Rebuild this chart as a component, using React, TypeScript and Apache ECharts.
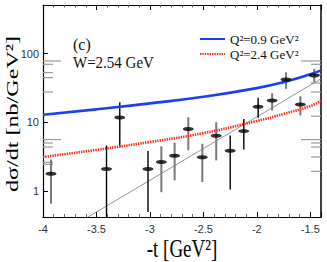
import React, { useEffect, useRef } from "react";
import * as echarts from "echarts";

// ---- axis ranges / ticks ----
const xMin = -4;
const xMax = -1.4;
const yMin = 0.423;
const yMax = 508;
const xTickInterval = 0.5;

// ---- data set A (black error bars) ----
const setAX = [-3.406, -3.282, -3.018, -2.249, -2.122, -1.988];
const setAY = [2.1, 11.8, 2.1, 3.89, 7.48, 16.9];
const setALow = [0.3, 4.4, 0.5, 1.06, 4.06, 11.7];
const setAHigh = [4.64, 19.7, 3.84, 6.48, 11.2, 22.8];

// ---- data set B (grey error bars) ----
const setBX = [-3.925, -2.893, -2.769, -2.641, -2.51, -2.38, -1.857, -1.727, -1.593, -1.463];
const setBY = [1.8, 2.66, 3.29, 8.0, 3.11, 6.41, 20.8, 42, 18.2, 48];
const setBLow = [0.66, 0.97, 1.44, 3.93, 1.36, 2.81, 14.9, 30.8, 12.6, 38.4];
const setBHigh = [2.89, 4.5, 5.08, 11.9, 4.91, 10.1, 26.6, 53.6, 24, 60];

// ---- model curves ----
const curveX = [-4, -3.5, -3, -2.5, -2, -1.75, -1.5, -1.4];
const q09 = [12.9, 15.5, 18.9, 23.6, 31.5, 38.5, 50, 57];
const q24 = [3.15, 4.0, 5.2, 7.0, 10.5, 13.3, 17.3, 20.5];

// ---- thin exponential fit line ----
const fitX = [-3.58, -1.4];
const fitY = [0.423, 43];

// ---- legacy grey ticks on the frame ----
const leftLongTicks = [78.1, 5.64];
const leftShortTicks = [69.9, 53.0, 44.8, 27.7, 5.03, 4.4, 2.64, 2.47];
const rightLongTicks = [78.1, 5.64];
const rightShortTicks = [69.9, 49.5, 37.4, 27.7, 12.3, 5.03, 4.4, 3.15, 1.95];

const legendNames = ["Q²=0.9 GeV²", "Q²=2.4 GeV²"];

const SERIF = '"Liberation Serif", "Times New Roman", serif';
const SANS = '"Liberation Sans", Arial, sans-serif';

function errBars(xs: number[], lo: number[], hi: number[]) {
  return xs.map((x, i) => [x, lo[i], hi[i]]);
}

function errorSeries(data: number[][], color: string, width: number) {
  return {
    type: "custom",
    silent: true,
    z: 3,
    data,
    encode: { x: 0, y: [1, 2] },
    renderItem: (_p: any, api: any) => {
      const x = api.value(0);
      const lo = Math.max(api.value(1), yMin);
      const hi = Math.min(api.value(2), yMax);
      const a = api.coord([x, lo]);
      const b = api.coord([x, hi]);
      return {
        type: "line",
        shape: { x1: a[0], y1: a[1], x2: b[0], y2: b[1] },
        style: { stroke: color, lineWidth: width },
      };
    },
  };
}

function frameTicks(values: number[], side: "left" | "right", len: number) {
  return {
    type: "custom",
    silent: true,
    z: 1,
    data: values.map((v) => [side === "left" ? xMin : xMax, v]),
    encode: { x: 0, y: 1 },
    renderItem: (_p: any, api: any) => {
      const p = api.coord([api.value(0), api.value(1)]);
      const dir = side === "left" ? 1 : -1;
      return {
        type: "line",
        shape: { x1: p[0], y1: p[1], x2: p[0] + dir * len, y2: p[1] },
        style: { stroke: "#9a9a9a", lineWidth: 1.2 },
      };
    },
  };
}

export default function App() {
  const ref = useRef<HTMLDivElement>(null);
  useEffect(() => {
    document.body.style.margin = "0";
    if (!ref.current) return;
    const chart = echarts.init(ref.current, undefined, { renderer: "svg" });
    const logLabel = (v: number) => {
      const l = Math.log10(v);
      return Math.abs(l - Math.round(l)) < 1e-6 ? String(Math.round(v)) : "";
    };
    const option: any = {
      animation: false,
      backgroundColor: "#fff",
      grid: { left: 43, top: 5, width: 278, height: 212, containLabel: false },
      legend: {
        data: legendNames,
        orient: "vertical",
        left: 194,
        top: 27,
        itemWidth: 25,
        itemHeight: 12,
        itemGap: 1,
        itemStyle: { color: "transparent", borderColor: "transparent", borderWidth: 0 },
        textStyle: { fontFamily: SERIF, fontSize: 13, color: "#111", lineHeight: 14 },
      },
      xAxis: [
        {
          type: "value",
          min: xMin,
          max: xMax,
          interval: xTickInterval,
          axisLine: { show: true, lineStyle: { color: "#000", width: 1.2 } },
          axisTick: { show: true, inside: true, length: 5, lineStyle: { color: "#000", width: 1 } },
          minorTick: { show: true, splitNumber: 5, length: 3, lineStyle: { color: "#666", width: 1 } },
          axisLabel: {
            show: true,
            showMaxLabel: false,
            margin: 6,
            fontFamily: SANS,
            fontSize: 11,
            color: "#333",
          },
          splitLine: { show: false },
        },
        {
          type: "value",
          position: "top",
          min: xMin,
          max: xMax,
          interval: xTickInterval,
          axisLine: { show: true, lineStyle: { color: "#000", width: 1.2 } },
          axisTick: { show: true, inside: true, length: 5, lineStyle: { color: "#000", width: 1 } },
          minorTick: { show: true, splitNumber: 5, length: 2.5, lineStyle: { color: "#555", width: 1 } },
          axisLabel: { show: false },
          splitLine: { show: false },
        },
      ],
      yAxis: [
        {
          type: "log",
          logBase: 10,
          min: yMin,
          max: yMax,
          axisLine: { show: true, lineStyle: { color: "#000", width: 1.2 } },
          axisTick: { show: true, inside: true, length: 5, lineStyle: { color: "#000", width: 1 } },
          axisLabel: {
            show: true,
            showMinLabel: false,
            showMaxLabel: false,
            formatter: logLabel,
            margin: 4,
            fontFamily: SANS,
            fontSize: 11,
            color: "#333",
          },
          splitLine: { show: false },
        },
        {
          type: "log",
          logBase: 10,
          position: "right",
          min: yMin,
          max: yMax,
          axisLine: { show: true, lineStyle: { color: "#000", width: 1.5 } },
          axisTick: { show: false },
          axisLabel: { show: false },
          splitLine: { show: false },
        },
      ],
      series: [
        frameTicks(leftLongTicks, "left", 18),
        frameTicks(leftShortTicks, "left", 10),
        frameTicks(rightLongTicks, "right", 20),
        frameTicks(rightShortTicks, "right", 10),
        {
          type: "line",
          silent: true,
          data: fitX.map((x, i) => [x, fitY[i]]),
          symbol: "none",
          lineStyle: { color: "#777", width: 0.8 },
          z: 2,
        },
        {
          name: legendNames[0],
          type: "line",
          smooth: true,
          symbol: "none",
          data: curveX.map((x, i) => [x, q09[i]]),
          lineStyle: { color: "#1d3ff2", width: 2.6 },
          itemStyle: { color: "#1d3ff2" },
          z: 4,
        },
        {
          name: legendNames[1],
          type: "line",
          smooth: true,
          symbol: "none",
          data: curveX.map((x, i) => [x, q24[i]]),
          lineStyle: { color: "#ff2a14", width: 2.6, type: [1.4, 1] },
          itemStyle: { color: "#ff2a14" },
          z: 4,
        },
        errorSeries(errBars(setAX, setALow, setAHigh), "#000", 1.4),
        errorSeries(errBars(setBX, setBLow, setBHigh), "#7a7a7a", 2),
        {
          type: "scatter",
          silent: true,
          symbol: "circle",
          symbolSize: [11, 4],
          data: setAX.map((x, i) => [x, setAY[i]]),
          itemStyle: { color: "#000" },
          z: 5,
        },
        {
          type: "scatter",
          silent: true,
          symbol: "circle",
          symbolSize: [11, 4],
          data: setBX.map((x, i) => [x, setBY[i]]),
          itemStyle: { color: "#000" },
          z: 5,
        },
      ],
      graphic: [
        {
          type: "text",
          x: 73,
          y: 44,
          scaleY: 1.1,
          style: { text: "(c)", font: `16px ${SERIF}`, fill: "#111", textAlign: "left", textVerticalAlign: "middle" },
        },
        {
          type: "text",
          x: 73,
          y: 62,
          scaleY: 1.1,
          style: {
            text: "W=2.54 GeV",
            font: `15px ${SERIF}`,
            fill: "#111",
            textAlign: "left",
            textVerticalAlign: "middle",
          },
        },
        {
          type: "text",
          x: 12,
          y: 114,
          rotation: Math.PI / 2,
          scaleX: 1.42,
          style: {
            text: "dσ/dt [nb/GeV²]",
            font: `17px ${SERIF}`,
            fill: "#000",
            textAlign: "center",
            textVerticalAlign: "middle",
          },
        },
        {
          type: "text",
          x: 182,
          y: 248,
          scaleY: 1.35,
          style: {
            text: "-t [GeV²]",
            font: `19px ${SERIF}`,
            fill: "#000",
            textAlign: "center",
            textVerticalAlign: "middle",
          },
        },
      ],
    };
    chart.setOption(option);
    return () => chart.dispose();
  }, []);
  return <div ref={ref} style={{ width: 327, height: 262 }} />;
}
